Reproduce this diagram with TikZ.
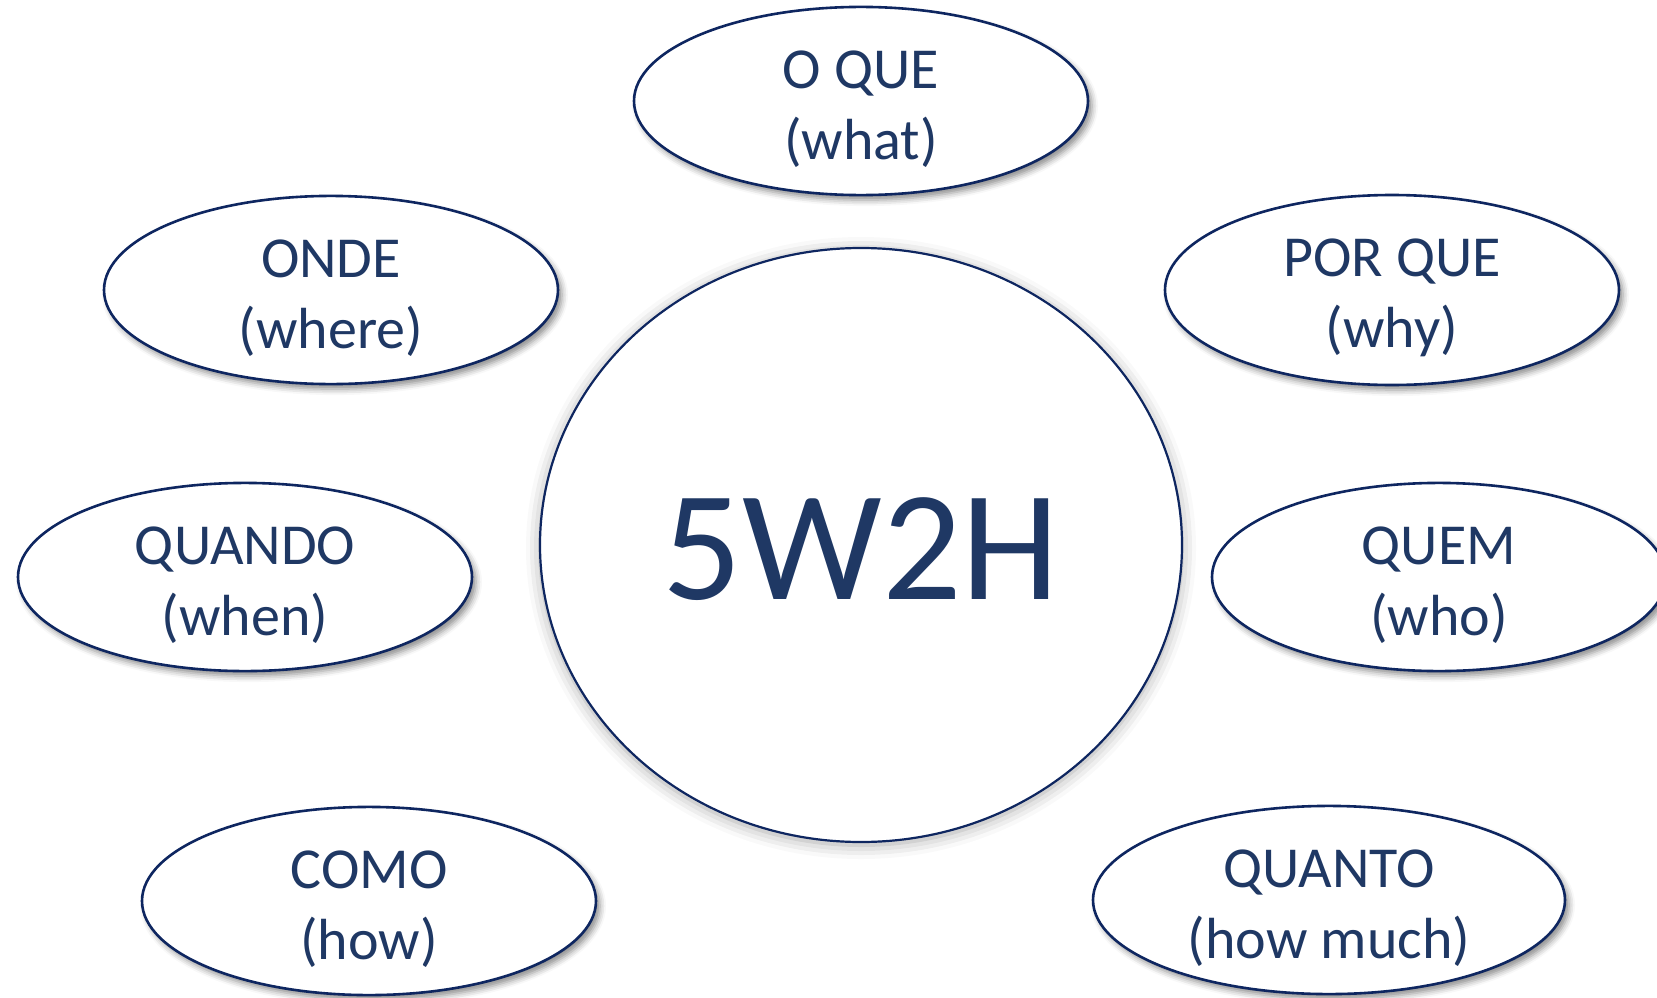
\documentclass[tikz,border=0pt]{standalone}
\usepackage{fontspec}
\setmainfont{Carlito}
\usetikzlibrary{shapes.geometric,shadows.blur}
\definecolor{navyline}{RGB}{14,38,96}
\definecolor{navytext}{RGB}{31,56,100}
\newcommand{\itemstrut}{\rule{0pt}{54pt}}
\tikzset{
  item/.style={ellipse, draw=navyline, line width=2.6pt, fill=white, inner sep=0pt,
    minimum width=454pt, minimum height=187pt, text=navytext, align=center,
    font=\fontsize{58}{71}\selectfont,
    blur shadow={shadow xshift=4pt, shadow yshift=-5pt, shadow blur radius=6pt, shadow opacity=45}},
  hub/.style={ellipse, draw=navyline, line width=2.2pt, fill=white, inner sep=0pt,
    minimum width=642pt, minimum height=594pt, text=navytext,
    font=\fontsize{157}{170}\selectfont,
    blur shadow={shadow xshift=0pt, shadow yshift=-3pt, shadow blur radius=14pt, shadow opacity=35}}
}
\begin{document}
\begin{tikzpicture}[x=1pt,y=-1pt]
\useasboundingbox (0,0) rectangle (1657,998);
\node[item] (what) at (861,101) {\itemstrut O QUE\\(what)};
\node[item] (where) at (331,290) {\itemstrut ONDE\\(where)};
\node[item] (why) at (1392,290) {\itemstrut POR QUE\\(why)};
\node[item] (when) at (245,577) {\itemstrut QUANDO\\(when)};
\node[item] (who) at (1439,577) {\itemstrut QUEM\\(who)};
\node[item] (how) at (369,901) {\itemstrut COMO\\(how)};
\node[item, minimum width=472pt] (howmuch) at (1329,900) {\itemstrut QUANTO\\(how much)};
\node[hub] (center) at (861,545) {\rule{0pt}{110pt}5W2H};
\end{tikzpicture}
\end{document}
